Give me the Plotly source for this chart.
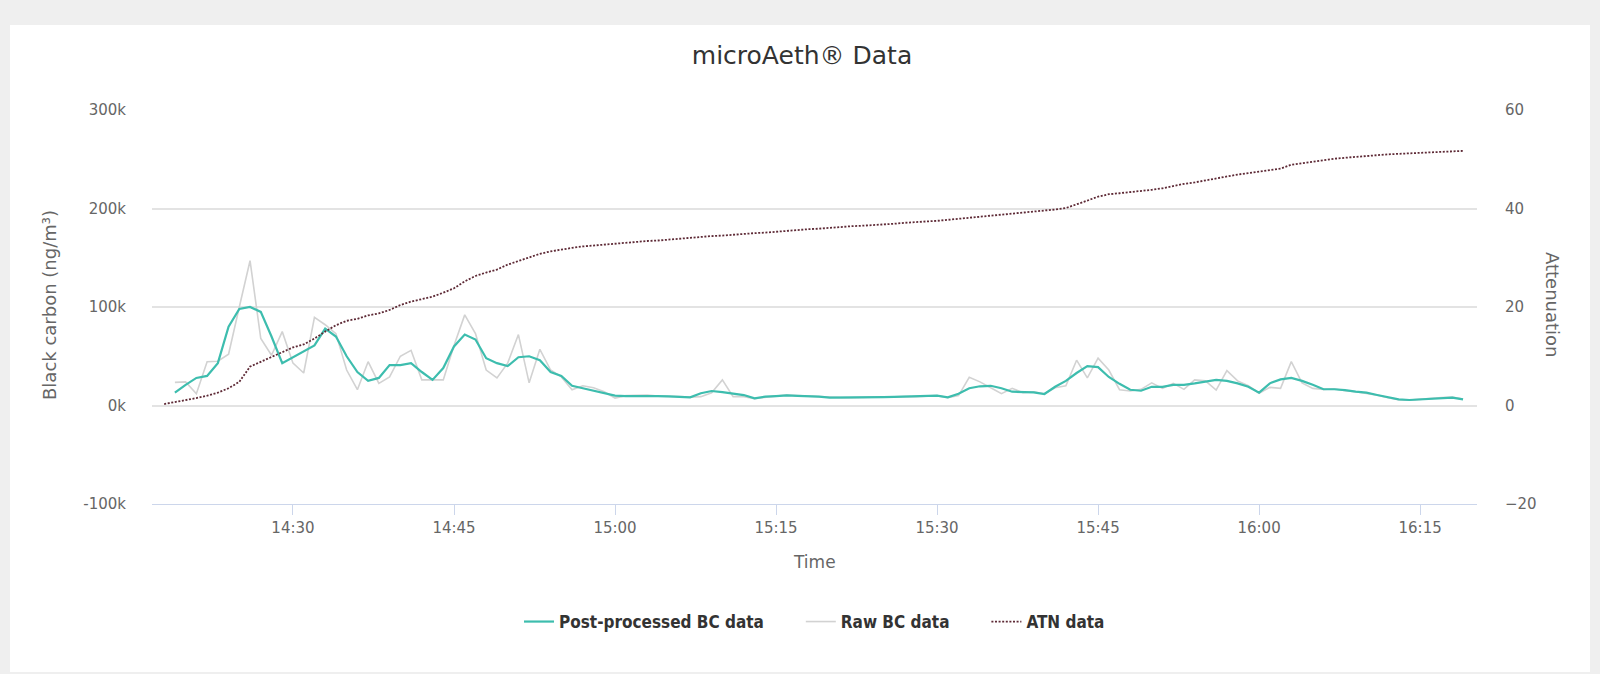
import plotly.graph_objects as go
from datetime import datetime, timedelta

# ---- data (one sample per minute, starting 14:18) ----
start = datetime(2020, 1, 1, 14, 18)
n_points = 122
times = [(start + timedelta(minutes=i)).strftime("%Y-%m-%d %H:%M:%S") for i in range(n_points)]

# Attenuation (right axis), minutes 0..121
atn = [0.3, 0.7, 1.0, 1.5, 2.0, 2.6, 3.5, 4.8, 7.9, 8.9,
       9.9, 10.9, 11.8, 12.4, 13.6, 15.0, 16.3, 17.2, 17.6, 18.3,
       18.7, 19.4, 20.4, 21.1, 21.6, 22.1, 22.9, 23.8, 25.2, 26.3,
       27.0, 27.6, 28.6, 29.3, 30.1, 30.8, 31.3, 31.7, 32.0, 32.3,
       32.5, 32.7, 32.8, 33.0, 33.2, 33.4, 33.5, 33.7, 33.9, 34.0,
       34.2, 34.4, 34.5, 34.7, 34.9, 35.0, 35.1, 35.3, 35.4, 35.6,
       35.8, 35.9, 36.1, 36.2, 36.4, 36.5, 36.6, 36.8, 36.9, 37.1,
       37.2, 37.4, 37.5, 37.7, 37.9, 38.1, 38.4, 38.6, 38.8, 39.0,
       39.2, 39.4, 39.6, 39.8, 40.1, 40.8, 41.6, 42.4, 42.9, 43.1,
       43.3, 43.5, 43.8, 44.1, 44.6, 45.0, 45.3, 45.7, 46.1, 46.6,
       46.9, 47.2, 47.5, 47.8, 48.1, 48.9, 49.2, 49.6, 49.9, 50.1,
       50.3, 50.5, 50.7, 50.9, 51.0, 51.1, 51.2, 51.3, 51.3, 51.5,
       51.6, 51.7]

# Post-processed BC (thousands of ng/m3), minute 0 has no value
bc_post_k = [None, 13, 21, 28, 30, 43, 80, 98, 100, 95,
             70, 43, 49, 55, 61, 78, 70, 50, 34, 25,
             28, 41, 41, 43, 34, 26, 38, 60, 72, 67,
             48, 43, 40, 49, 50, 46, 34, 30, 20, 17.5,
             15, 12, 10, 9.6, 9.6, 10.3, 9.6, 9.2, 9, 8.3,
             12.4, 14.7, 13.5, 12, 10.6, 7.3, 9, 9.6, 10.3, 9.8,
             9.6, 9, 8, 8, 8, 8.3, 8.5, 8.6, 8.8, 9,
             9, 9.5, 10, 8.3, 12, 17.5, 19.5, 20, 17.5, 14,
             13.5, 13.4, 11.7, 19, 25, 33, 40, 39, 29, 22,
             16, 15, 19, 19, 21, 21, 22.5, 24, 26, 25,
             22.5, 19, 13, 22.5, 26.5, 28, 25, 21, 16.5, 16.5,
             15.7, 14, 13, 10.7, 8.3, 6.3, 5.6, 6.3, 7, 8,
             8, 6.3]

# Raw BC (thousands of ng/m3)
bc_raw_k = [None, 23.5, 24, 12, 44.5, 45, 52, 100, 147, 68,
            51, 75, 43, 33, 89.5, 82, 73, 36, 16, 44.5,
            22.5, 29, 50, 56, 26, 26, 26, 61, 92, 73,
            36, 28, 43, 72, 23, 57, 36, 29, 16, 20,
            18, 14, 7.5, 10, 10, 10.5, 9.5, 9.5, 9, 8.5,
            9, 13, 26, 9, 9, 7, 8.5, 9.5, 10.5, 10,
            9.5, 9, 8, 8, 8, 8.5, 8.5, 8.5, 9, 9,
            9, 9.5, 10, 8, 10, 28.6, 24, 18, 12, 17.5,
            13, 14, 12, 18, 20, 46, 28, 48, 36, 16,
            14.7, 16.4, 23, 17.4, 22.5, 16.4, 26, 25, 15.7, 35.4,
            25, 20, 12.5, 18.4, 17.4, 44.5, 23, 17.4, 16.4, 17,
            15, 14, 12.5, 10.5, 8, 6, 5.5, 6.5, 7, 8,
            8.5, 6.5]

bc_post = [None if v is None else v * 1000 for v in bc_post_k]
bc_raw = [None if v is None else v * 1000 for v in bc_raw_k]

left_ticks = [-100000, 0, 100000, 200000, 300000]
left_ticktext = ["-100k", "0k", "100k", "200k", "300k"]
right_ticks = [-20, 0, 20, 40, 60]
x_ticks = ["2020-01-01 14:30", "2020-01-01 14:45", "2020-01-01 15:00", "2020-01-01 15:15",
           "2020-01-01 15:30", "2020-01-01 15:45", "2020-01-01 16:00", "2020-01-01 16:15"]
x_ticktext = ["14:30", "14:45", "15:00", "15:15", "15:30", "15:45", "16:00", "16:15"]

series_names = ["Post-processed BC data", "Raw BC data", "ATN data"]

FONT = "DejaVu Sans"
LEG_FONT = "DejaVu Sans Condensed, Open Sans"
PAD = "\u00a0" * 6

fig = go.Figure()
# draw order: raw, ATN, post-processed on top; legend order set by legendrank
fig.add_trace(go.Scatter(x=times, y=bc_raw, name=series_names[1] + PAD, mode="lines",
                         line=dict(color="#d2d2d2", width=1.6), yaxis="y", legendrank=2))
fig.add_trace(go.Scatter(x=times, y=atn, name=series_names[2], mode="lines",
                         line=dict(color="#5e2a36", width=1.8, dash="2px,1.6px"), yaxis="y2", legendrank=3))
fig.add_trace(go.Scatter(x=times, y=bc_post, name=series_names[0] + PAD, mode="lines",
                         line=dict(color="#3dbdae", width=2.2), yaxis="y", legendrank=1))

L, R, T, B = 152, 123, 110, 170
W, H = 1600, 674
plot_w = W - L - R
plot_h = H - T - B

def px_x(x):
    return (x - L) / plot_w

def px_y(y):
    return (H - B - y) / plot_h

fig.update_layout(
    width=W, height=H,
    margin=dict(l=L, r=R, t=T, b=B),
    paper_bgcolor="#efefef",
    plot_bgcolor="white",
    font=dict(family=FONT, color="#666666", size=15),
    title=dict(text="microAeth® Data", x=802 / W, xanchor="center",
               y=1 - 55 / H, yanchor="middle",
               font=dict(family=FONT, size=25, color="#333333")),
    showlegend=True,
    legend=dict(orientation="h", x=0.5, xanchor="center", y=px_y(622), yanchor="middle",
                font=dict(family=LEG_FONT, size=17, color="#333333", weight="bold"),
                traceorder="normal", itemwidth=30, bgcolor="rgba(0,0,0,0)"),
    xaxis=dict(type="date",
               range=["2020-01-01 14:16:52", "2020-01-01 16:20:18"],
               tickvals=x_ticks, ticktext=x_ticktext,
               showgrid=False, zeroline=False,
               showline=True, linecolor="#ccd6eb", linewidth=1,
               ticks="outside", ticklen=10, tickcolor="#ccd6eb",
               tickfont=dict(family=FONT, size=15, color="#666666")),
    yaxis=dict(range=[-100000, 300000], tickvals=left_ticks, ticktext=left_ticktext,
               showgrid=True, gridcolor="#e3e3e3", gridwidth=2, zeroline=False,
               showline=False, ticks="outside", ticklen=22, tickcolor="rgba(0,0,0,0)",
               tickfont=dict(family=FONT, size=15, color="#666666")),
    yaxis2=dict(range=[-20, 60], tickvals=right_ticks, overlaying="y", side="right",
                showgrid=False, zeroline=False, showline=False,
                ticks="outside", ticklen=24, tickcolor="rgba(0,0,0,0)",
                tickfont=dict(family=FONT, size=15, color="#666666")),
    shapes=[dict(type="rect", xref="paper", yref="paper", layer="below",
                 x0=px_x(10), x1=px_x(1590), y0=px_y(672), y1=px_y(25),
                 fillcolor="white", line=dict(width=0))],
    annotations=[
        dict(text="Black carbon (ng/m³)", xref="paper", yref="paper",
             x=px_x(49), y=px_y(305), textangle=-90, showarrow=False,
             xanchor="center", yanchor="middle",
             font=dict(family=FONT, size=18, color="#666666")),
        dict(text="Attenuation", xref="paper", yref="paper",
             x=px_x(1553), y=px_y(305), textangle=90, showarrow=False,
             xanchor="center", yanchor="middle",
             font=dict(family=FONT, size=18, color="#666666")),
        dict(text="Time", xref="paper", yref="paper",
             x=px_x(814), y=px_y(562), showarrow=False,
             xanchor="center", yanchor="middle",
             font=dict(family=FONT, size=17, color="#666666")),
    ],
)

post_js = "document.body.style.margin='0';document.body.style.padding='0';document.body.style.background='#efefef';document.body.style.overflow='hidden';"
fig.write_html("out.html", post_script=post_js, config={"displayModeBar": False})
